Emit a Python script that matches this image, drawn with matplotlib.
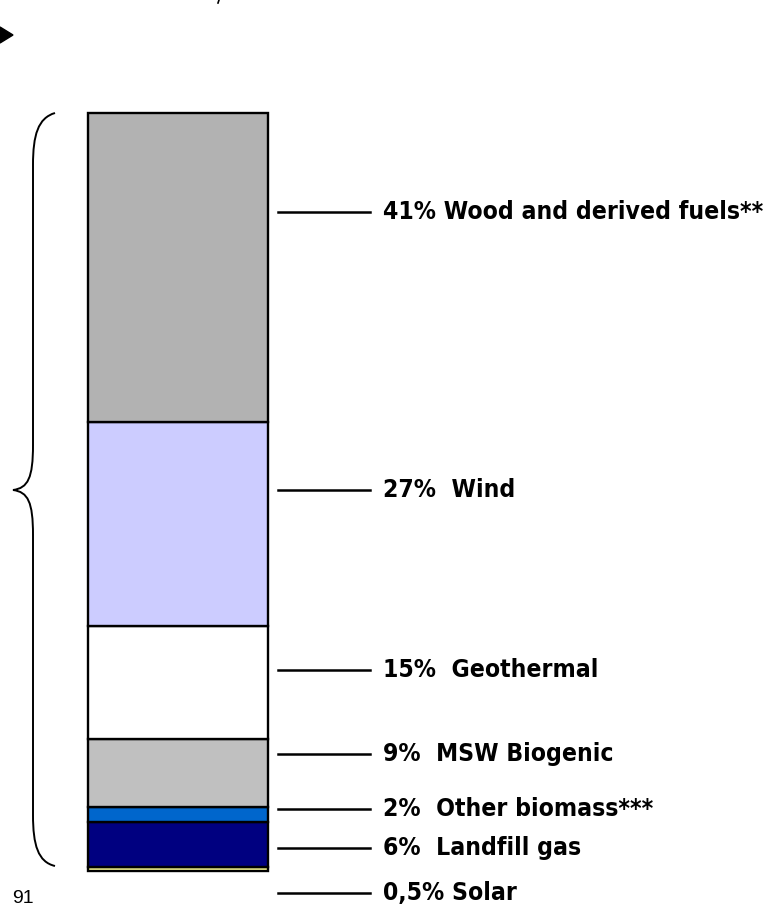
import matplotlib
matplotlib.use('Agg')
import matplotlib.pyplot as plt
from matplotlib.path import Path
from matplotlib.patches import PathPatch
import matplotlib.transforms as mtransforms

# renewable shares, bottom of the stack first
sources = ['Solar', 'Landfill gas', 'Other biomass***', 'MSW Biogenic',
           'Geothermal', 'Wind', 'Wood and derived fuels**']
shares = [0.5, 6, 2, 9, 15, 27, 41]
share_text = ['0,5%', '6%', '2%', '9%', '15%', '27%', '41%']
colors = ['#FFFF99', '#000080', '#0066CC', '#C0C0C0', '#FFFFFF', '#CCCCFF', '#B2B2B2']
# where each label sits on the share axis
label_y = [-2.9, 3.0, 8.2, 15.5, 26.6, 50.5, 87.4]

W, H = 771, 910
fig = plt.figure(figsize=(W / 100, H / 100), dpi=100)
font = ['Liberation Sans Narrow', 'DejaVu Sans']

# the stacked bar
ax = fig.add_axes([88 / W, (H - 871) / H, 180 / W, 758 / H])
bottom = 0
for s, c in zip(shares, colors):
    ax.bar(0, s, width=1, bottom=bottom, color=c, edgecolor='black',
           linewidth=1.7, clip_on=False)
    bottom += s
ax.set_xlim(-0.5, 0.5)
ax.set_ylim(0, sum(shares))
ax.axis('off')

trans = mtransforms.blended_transform_factory(ax.transAxes, ax.transData)
for y, pct, name in zip(label_y, share_text, sources):
    ax.plot([1.056, 1.567], [y, y], color='black', lw=1.8, transform=trans, clip_on=False)
    gap = ' ' if pct in ('41%', '0,5%') else '  '
    ax.text(1.64, y, pct + gap + name, transform=trans, va='center', ha='left',
            fontsize=17.7, fontweight='bold', fontstretch='condensed', family=font)

# brace and stray marks, drawn in pixel space over the whole figure
ov = fig.add_axes([0, 0, 1, 1], facecolor='none')
ov.set_xlim(0, W)
ov.set_ylim(H, 0)
ov.axis('off')
verts = [(55, 113), (38, 118), (33, 135), (33, 165),
         (33, 445),
         (33, 478), (28, 488), (13, 490),
         (28, 492), (33, 502), (33, 535),
         (33, 815),
         (33, 845), (38, 862), (55, 866)]
codes = [Path.MOVETO, Path.CURVE4, Path.CURVE4, Path.CURVE4,
         Path.LINETO,
         Path.CURVE4, Path.CURVE4, Path.CURVE4,
         Path.CURVE4, Path.CURVE4, Path.CURVE4,
         Path.LINETO,
         Path.CURVE4, Path.CURVE4, Path.CURVE4]
ov.add_patch(PathPatch(Path(verts, codes), facecolor='none', edgecolor='black', lw=1.4))
ov.add_patch(plt.Polygon([(0, 27), (13, 35), (0, 43)], color='black'))
ov.plot([219, 218], [0, 3], color='black', lw=1.2)
ov.text(12, 890, '91', fontsize=14, ha='left', va='top', family=['Liberation Sans', 'DejaVu Sans'])

fig.savefig('out.png', dpi=100)
